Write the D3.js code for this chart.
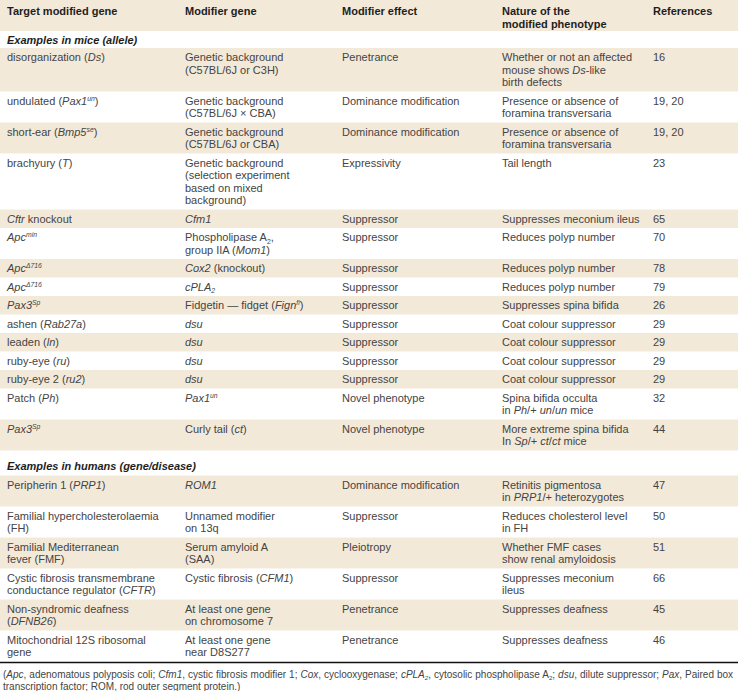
<!DOCTYPE html>
<html><head><meta charset="utf-8">
<script src="https://cdn.jsdelivr.net/npm/d3@7"></script>
<style>body{margin:0;background:#fff}svg{display:block}</style>
</head><body><svg id="c" width="738" height="691"></svg>
<script>
// ---------- DATA ----------
const headers = ["Target modified gene", "Modifier gene", "Modifier effect", "Nature of the\nmodified phenotype", "References"];
const sectionLabels = ["Examples in mice (allele)", "Examples in humans (gene/disease)"];
const rowSection = [0,0,0,0,0,0,0,0,0,0,0,0,0,0,0, 1,1,1,1,1,1];
const targetGenes = [
  "disorganization (*Ds*)", "undulated (*Pax1^{un}*)", "short-ear (*Bmp5^{se}*)", "brachyury (*T*)",
  "*Cftr* knockout", "*Apc^{min}*", "*Apc^{Δ716}*", "*Apc^{Δ716}*", "*Pax3^{Sp}*", "ashen (*Rab27a*)",
  "leaden (*ln*)", "ruby-eye (*ru*)", "ruby-eye 2 (*ru2*)", "Patch (*Ph*)", "*Pax3^{Sp}*",
  "Peripherin 1 (*PRP1*)", "Familial hypercholesterolaemia\n(FH)", "Familial Mediterranean\nfever (FMF)",
  "Cystic fibrosis transmembrane\nconductance regulator (*CFTR*)", "Non-syndromic deafness\n(*DFNB26*)",
  "Mitochondrial 12S ribosomal\ngene"
];
const modifierGenes = [
  "Genetic background\n(C57BL/6J or C3H)", "Genetic background\n(C57BL/6J × CBA)", "Genetic background\n(C57BL/6J or CBA)",
  "Genetic background\n(selection experiment\nbased on mixed\nbackground)", "*Cfm1*", "Phospholipase A_{2},\ngroup IIA (*Mom1*)",
  "*Cox2* (knockout)", "*cPLA_{2}*", "Fidgetin — fidget (*Fign^{fi}*)", "*dsu*", "*dsu*", "*dsu*", "*dsu*",
  "*Pax1^{un}*", "Curly tail (*ct*)",
  "*ROM1*", "Unnamed modifier\non 13q", "Serum amyloid A\n(SAA)", "Cystic fibrosis (*CFM1*)",
  "At least one gene\non chromosome 7", "At least one gene\nnear D8S277"
];
const modifierEffects = [
  "Penetrance", "Dominance modification", "Dominance modification", "Expressivity", "Suppressor", "Suppressor",
  "Suppressor", "Suppressor", "Suppressor", "Suppressor", "Suppressor", "Suppressor", "Suppressor",
  "Novel phenotype", "Novel phenotype",
  "Dominance modification", "Suppressor", "Pleiotropy", "Suppressor", "Penetrance", "Penetrance"
];
const phenotypes = [
  "Whether or not an affected\nmouse shows *Ds*-like\nbirth defects", "Presence or absence of\nforamina transversaria",
  "Presence or absence of\nforamina transversaria", "Tail length", "Suppresses meconium ileus", "Reduces polyp number",
  "Reduces polyp number", "Reduces polyp number", "Suppresses spina bifida", "Coat colour suppressor",
  "Coat colour suppressor", "Coat colour suppressor", "Coat colour suppressor",
  "Spina bifida occulta\nin *Ph*/+ *un*/*un* mice", "More extreme spina bifida\nIn *Sp*/+ *ct*/*ct* mice",
  "Retinitis pigmentosa\nin *PRP1*/+ heterozygotes", "Reduces cholesterol level\nin FH",
  "Whether FMF cases\nshow renal amyloidosis", "Suppresses meconium\nileus", "Suppresses deafness", "Suppresses deafness"
];
const references = ["16","19, 20","19, 20","23","65","70","78","79","26","29","29","29","29","32","44",
  "47","50","51","66","45","46"];
const footnote = [
  "(*Apc*, adenomatous polyposis coli; *Cfm1*, cystic fibrosis modifier 1; *Cox*, cyclooxygenase; *cPLA_{2}*, cytosolic phospholipase A_{2}; *dsu*, dilute suppressor; *Pax*, Paired box",
  "transcription factor; ROM, rod outer segment protein.)"
];

// ---------- LAYOUT ----------
const W = 738;
const beige = "#f3e9d9";
const textCol = "#444444";
const colX = d3.scaleOrdinal().domain([0,1,2,3,4]).range([7,185,342,502,653]);
const lineH = 12.5, pad = 6, fs = 11;

const svg = d3.select("#c");
const font = "'Liberation Sans', Arial, Helvetica, sans-serif";

function parse(str) {
  const segs = []; let italic = false; let buf = "";
  const flush = (shift) => { if (buf) segs.push({t: buf, it: italic, sh: shift||0}); buf = ""; };
  for (let i = 0; i < str.length; i++) {
    const c = str[i];
    if (c === "*") { flush(); italic = !italic; }
    else if ((c === "^" || c === "_") && str[i+1] === "{") {
      flush();
      const end = str.indexOf("}", i);
      buf = str.slice(i+2, end); flush(c === "^" ? 1 : -1); i = end;
    } else buf += c;
  }
  flush();
  return segs;
}

function drawText(g, str, x, y, opts) {
  const t = g.append("text").attr("x", x).attr("y", y)
    .attr("font-family", font).attr("font-size", opts.size || fs)
    .attr("fill", opts.fill || textCol)
    .attr("font-weight", opts.bold ? "bold" : "normal")
    .attr("font-style", opts.italic ? "italic" : "normal");
  let cur = 0;
  parse(str).forEach(s => {
    const target = s.sh === 1 ? -3.8 : s.sh === -1 ? 2.5 : 0;
    const sp = t.append("tspan").text(s.t)
      .attr("dy", target - cur)
      .attr("font-style", (s.it || opts.italic) ? "italic" : "normal");
    if (s.sh) sp.attr("font-size", (opts.size || fs) * 0.62);
    cur = target;
  });
  return t;
}

const nLines = s => s.split("\n").length;
const rowH = n => pad + lineH * n;

const g = svg.append("g");
// header
g.append("rect").attr("x",0).attr("y",0).attr("width",W).attr("height",31).attr("fill",beige);
headers.forEach((h, ci) => h.split("\n").forEach((ln, li) =>
  drawText(g, ln, colX(ci), 15 + li*12.5, {bold:true, fill:"#1e1e1e"})));

let y = 31;
const sectionH = [17, 25], sectionBase = [13, 19];
let lastSec = -1, k = 0;
targetGenes.forEach((tg, i) => {
  const sec = rowSection[i];
  if (sec !== lastSec) {
    drawText(g, sectionLabels[sec], 7, y + sectionBase[sec], {bold:true, italic:true, fill:"#1e1e1e"});
    y += sectionH[sec]; lastSec = sec; k = 0;
  }
  const cells = [tg, modifierGenes[i], modifierEffects[i], phenotypes[i], references[i]];
  const n = d3.max(cells, nLines);
  const h = rowH(n);
  if (k % 2 === 0) g.append("rect").attr("x",0).attr("y",y).attr("width",W).attr("height",h).attr("fill",beige);
  cells.forEach((c, ci) => c.split("\n").forEach((ln, li) =>
    drawText(g, ln, colX(ci), y + 13 + li*lineH, {})));
  y += h; k++;
});

g.append("line").attr("x1",0).attr("x2",W).attr("y1",y+1).attr("y2",y+1).attr("stroke","#111").attr("stroke-width",1.5);

footnote.forEach((f, i) => {
  const t = drawText(g, f, 3, y + 16 + i*12, {size: 10});
  if (i === 0) {
    // justify the first footnote line to the full width
    const w = t.node().getComputedTextLength();
    const spaces = (f.match(/ /g) || []).length;
    const extra = (730 - w) / spaces;
    if (extra > 0) t.attr("word-spacing", extra.toFixed(2));
  }
});
</script></body></html>
